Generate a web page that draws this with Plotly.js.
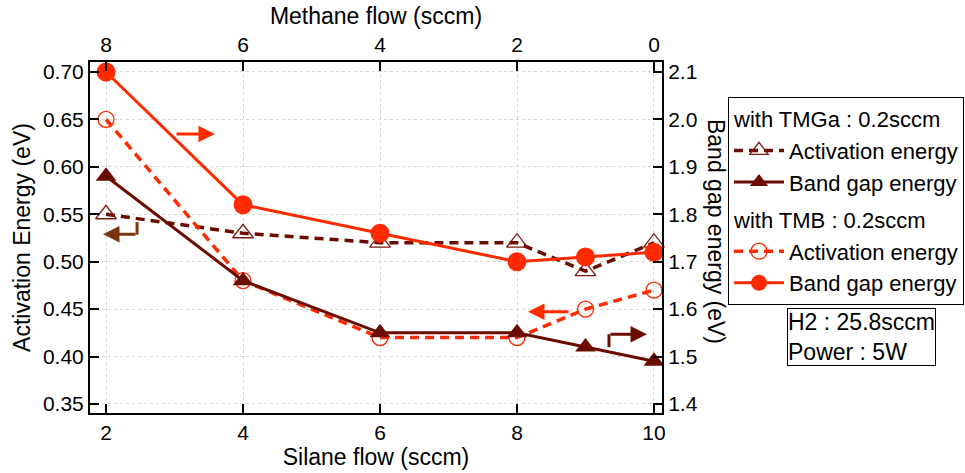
<!DOCTYPE html>
<html>
<head>
<meta charset="utf-8">
<script src="https://cdn.plot.ly/plotly-3.0.1.min.js"></script>
<style>
  html, body { margin: 0; padding: 0; background: #fff; }
  #chart { width: 965px; height: 473px; }
</style>
</head>
<body>
<div id="chart"></div>
<script>
// Silane flow (sccm) on the bottom axis; methane flow on the top axis is 10 - silane
const silane = [2, 4, 6, 8, 9, 10];
const methaneTicks = [8, 6, 4, 2, 0];

// Activation energy (eV), left axis
const tmgaActivation = [0.55, 0.53, 0.52, 0.52, 0.49, 0.52];
const tmbActivation  = [0.65, 0.48, 0.42, 0.42, 0.45, 0.47];

// Band gap energy (eV), right axis
const tmgaBandGap = [1.88, 1.66, 1.55, 1.55, 1.52, 1.49];
const tmbBandGap  = [2.10, 1.82, 1.76, 1.70, 1.71, 1.72];

const leftTicks  = [0.35, 0.40, 0.45, 0.50, 0.55, 0.60, 0.65, 0.70];
const rightTicks = [1.4, 1.5, 1.6, 1.7, 1.8, 1.9, 2.0, 2.1];

const DARK = '#6a0d00';
const RED = '#ff2a00';
const BROWN = '#7a3510';
const FONT = 'Liberation Sans, Arial, sans-serif';
const TICK_SIZE = 21;
const TEXT_SIZE = 23;
const LEGEND_SIZE = 22;

const traces = [
  {
    x: silane, y: tmgaActivation, yaxis: 'y', xaxis: 'x',
    name: 'Activation energy', legendgroup: 'tmga',
    legendgrouptitle: { text: 'with TMGa : 0.2sccm', font: { size: LEGEND_SIZE } },
    mode: 'lines+markers', cliponaxis: false,
    line: { color: DARK, width: 3.5, dash: '9px,6px' },
    marker: { symbol: 'triangle-up-open', size: 18, color: '#7a1a10', line: { width: 1.3, color: '#7a1a10' } }
  },
  {
    x: silane, y: tmgaBandGap, yaxis: 'y2', xaxis: 'x',
    name: 'Band gap energy', legendgroup: 'tmga',
    mode: 'lines+markers', cliponaxis: false,
    line: { color: DARK, width: 3 },
    marker: { symbol: 'triangle-up', size: 18, color: DARK }
  },
  {
    x: silane, y: tmbActivation, yaxis: 'y', xaxis: 'x',
    name: 'Activation energy', legendgroup: 'tmb',
    legendgrouptitle: { text: 'with TMB : 0.2sccm', font: { size: LEGEND_SIZE } },
    mode: 'lines+markers', cliponaxis: false,
    line: { color: RED, width: 3.5, dash: '9px,6px' },
    marker: { symbol: 'circle-open', size: 16, color: RED, line: { width: 1.3, color: RED } }
  },
  {
    x: silane, y: tmbBandGap, yaxis: 'y2', xaxis: 'x',
    name: 'Band gap energy', legendgroup: 'tmb',
    mode: 'lines+markers', cliponaxis: false,
    line: { color: RED, width: 3 },
    marker: { symbol: 'circle', size: 19, color: RED }
  },
  // carries the methane-flow axis along the top (no visible marks)
  {
    x: methaneTicks, y: methaneTicks.map(() => null), xaxis: 'x2', yaxis: 'y',
    mode: 'markers', showlegend: false, hoverinfo: 'skip'
  }
];

const axisCommon = {
  showline: true, linecolor: '#000', linewidth: 2,
  ticks: 'inside', ticklen: 9, tickwidth: 2, tickcolor: '#000',
  tickfont: { family: FONT, size: TICK_SIZE, color: '#000' },
  zeroline: false
};

const layout = {
  width: 965, height: 473,
  margin: { l: 90, r: 303, t: 62, b: 60, autoexpand: false },
  paper_bgcolor: '#fff', plot_bgcolor: '#fff',
  font: { family: FONT, size: TEXT_SIZE, color: '#000' },
  xaxis: Object.assign({}, axisCommon, {
    range: [1.766, 10.117],
    tickvals: [2, 4, 6, 8, 10],
    showgrid: true, gridcolor: '#d4d4d4', griddash: 'dot', gridwidth: 1,
    title: { text: 'Silane flow (sccm)', font: { size: TEXT_SIZE }, standoff: 1 }
  }),
  xaxis2: Object.assign({}, axisCommon, {
    overlaying: 'x', side: 'top', anchor: 'y',
    range: [10 - 1.766, 10 - 10.117],
    tickvals: methaneTicks,
    showgrid: false,
    title: { text: 'Methane flow (sccm)', font: { size: TEXT_SIZE }, standoff: 2 }
  }),
  yaxis: Object.assign({}, axisCommon, {
    range: [0.3405, 0.7105],
    tickvals: leftTicks, tickformat: '.2f',
    showgrid: true, gridcolor: '#d4d4d4', griddash: 'dot', gridwidth: 1,
    title: { text: 'Activation Energy (eV)', font: { size: TEXT_SIZE }, standoff: 6 }
  }),
  yaxis2: Object.assign({}, axisCommon, {
    overlaying: 'y', side: 'right', anchor: 'x',
    range: [1.381, 2.121],
    tickvals: rightTicks, tickformat: '.1f',
    showgrid: false
  }),
  showlegend: true,
  legend: {
    x: 1.1154, y: 0.9003, xanchor: 'left', yanchor: 'top',
    bordercolor: '#000', borderwidth: 1, bgcolor: '#fff',
    font: { family: FONT, size: LEGEND_SIZE, color: '#000' },
    traceorder: 'grouped', tracegroupgap: 6,
    itemwidth: 50
  },
  shapes: [
    // vertical legs of the two bent arrows
    { type: 'line', xref: 'x', yref: 'y', x0: 2.453, x1: 2.453, y0: 0.5418, y1: 0.5285,
      line: { color: BROWN, width: 3 } },
    { type: 'line', xref: 'x', yref: 'y', x0: 9.343, x1: 9.343, y0: 0.4099, y1: 0.4236,
      line: { color: DARK, width: 3 } }
  ],
  annotations: [
    { x: 3.59, y: 0.6346, ax: 3.007, ay: 0.6346, axref: 'x', ayref: 'y', xref: 'x', yref: 'y',
      text: '', showarrow: true, arrowhead: 2, arrowsize: 1.1, arrowwidth: 3, arrowcolor: RED, standoff: 0 },
    { x: 1.956, y: 0.529, ax: 2.453, ay: 0.529, axref: 'x', ayref: 'y', xref: 'x', yref: 'y',
      text: '', showarrow: true, arrowhead: 2, arrowsize: 1.1, arrowwidth: 3, arrowcolor: BROWN, standoff: 0 },
    { x: 8.161, y: 0.4472, ax: 8.774, ay: 0.4472, axref: 'x', ayref: 'y', xref: 'x', yref: 'y',
      text: '', showarrow: true, arrowhead: 2, arrowsize: 1.1, arrowwidth: 3, arrowcolor: RED, standoff: 0 },
    { x: 9.898, y: 0.4236, ax: 9.343, ay: 0.4236, axref: 'x', ayref: 'y', xref: 'x', yref: 'y',
      text: '', showarrow: true, arrowhead: 2, arrowsize: 1.1, arrowwidth: 3, arrowcolor: DARK, standoff: 0 },
    { xref: 'paper', yref: 'paper', x: 1.0944, y: 0.5157, xanchor: 'center', yanchor: 'middle',
      text: 'Band gap energy (eV)', textangle: 90, showarrow: false, font: { size: TEXT_SIZE } },
    { xref: 'paper', yref: 'paper', x: 1.2185, y: 0.299, xanchor: 'left', yanchor: 'top',
      text: 'H2 : 25.8sccm<br>Power : 5W', align: 'left', showarrow: false,
      bordercolor: '#000', borderwidth: 1, borderpad: 0, bgcolor: '#fff', font: { size: 23 } }
  ]
};

Plotly.newPlot('chart', traces, layout, { displayModeBar: false, staticPlot: true });
</script>
</body>
</html>
